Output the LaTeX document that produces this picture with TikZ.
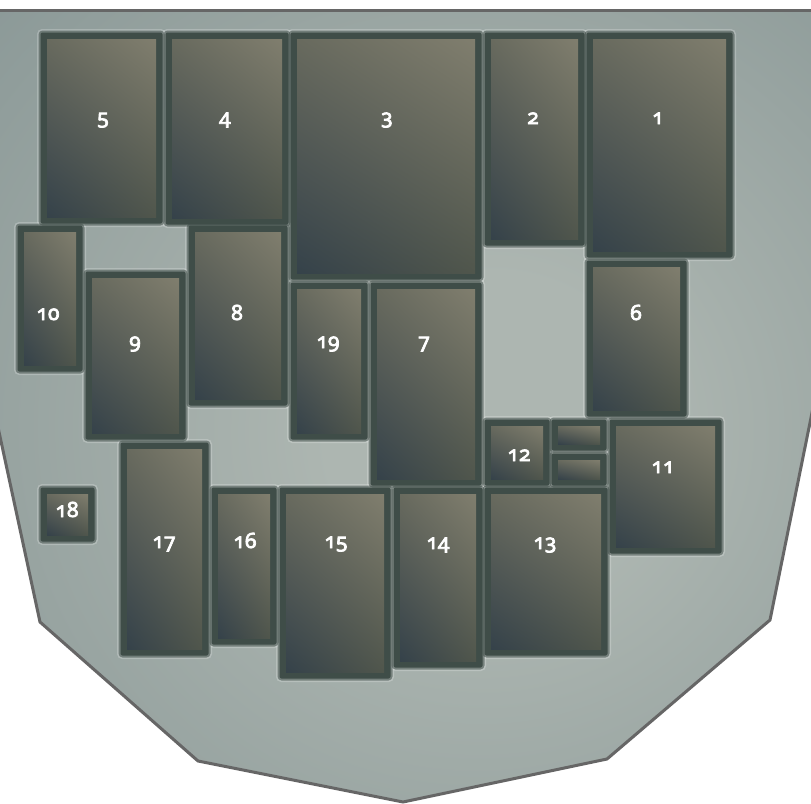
\documentclass[tikz,border=0pt]{standalone}
\usepackage{fontspec}
\newfontfamily\fusefont{Noto Sans}[Numbers=OldStyle, AutoFakeBold=3.5]
\usetikzlibrary{shadings}

\definecolor{shieldin}{RGB}{173,182,177}
\definecolor{shieldout}{RGB}{124,140,140}
\definecolor{shieldline}{RGB}{102,102,102}
\definecolor{rimcol}{RGB}{63,77,72}
\definecolor{fusetr}{RGB}{128,126,110}
\definecolor{fusetl}{RGB}{104,106,94}
\definecolor{fusebr}{RGB}{80,86,76}
\definecolor{fusebl}{RGB}{53,66,74}

\pgfdeclareradialshading{shieldglow}{\pgfpoint{6bp}{-2bp}}{%
  color(0bp)=(shieldin); color(10bp)=(shieldin);
  color(52bp)=(shieldout); color(80bp)=(shieldout)}

\tikzset{
  halobox/.style={fill=white, opacity=.22, rounded corners=5pt},
  softbox/.style={fill=rimcol, opacity=.55, rounded corners=4pt},
  rimbox/.style={fill=rimcol, rounded corners=2pt},
  fusebody/.style={upper right=fusetr, upper left=fusetl,
                   lower right=fusebr, lower left=fusebl},
  fuselabel/.style={text=white, anchor=base, inner sep=0pt,
                    font=\fusefont\bfseries\fontsize{21}{21}\selectfont},
}

% fuse name / inner box (left, top, right, bottom)
\def\fuselist{5/47/39/156/217, 4/172/39/282/218, 3/297/39/475/273,
  2/491/39/578/239, 1/593/39/726/251, 6/593/267/680/410,
  10/24/232/76/365, 9/92/278/179/433, 8/195/232/281/399,
  19/297/289/361/433, 7/377/289/475/479, 12/491/426/543/479,
  a/558/426/600/444, b/558/460/600/479, 11/616/426/715/547,
  18/47/494/88/535, 17/127/449/202/649, 16/218/494/270/638,
  15/286/494/384/672, 14/400/494/476/661, 13/491/494/601/649}

\begin{document}
\begin{tikzpicture}[x=1pt, y=-1pt]
    \useasboundingbox (0,0) rectangle (811,803);
    \fill[white] (0,0) rectangle (811,803);

    % 1. the shield and its outline
    \coordinate (tl) at (-4,10);
    \coordinate (tr) at (815,10);
    \coordinate (r0) at (815,398);
    \coordinate (r1) at (770,620);
    \coordinate (r2) at (607,759);
    \coordinate (bt) at (403,802);
    \coordinate (l2) at (198,761);
    \coordinate (l1) at (40,622);
    \coordinate (l0) at (-4,418);
    \shade[shading=shieldglow] (tl) -- (tr) -- (r0) -- (r1) -- (r2) -- (bt)
        -- (l2) -- (l1) -- (l0) -- cycle;
    \draw[shieldline, line width=3pt] (tl) -- (tr);
    \draw[shieldline, line width=3pt] (r0) -- (r1) -- (r2) -- (bt)
        -- (l2) -- (l1) -- (l0);

    % 2. halo, rim and body of every fuse
    \foreach \name/\xa/\ya/\xb/\yb in \fuselist {
        \fill[halobox] (\xa-10,\ya-10) rectangle (\xb+10,\yb+10);
    }
    \foreach \name/\xa/\ya/\xb/\yb in \fuselist {
        \fill[softbox] (\xa-8.5,\ya-8.5) rectangle (\xb+8.5,\yb+8.5);
        \fill[rimbox] (\xa-6.5,\ya-6.5) rectangle (\xb+6.5,\yb+6.5);
        \shade[fusebody] (\xa,\ya) rectangle (\xb,\yb);
    }

    % 3. fuse numbers (base line positions)
    \foreach \name/\lx/\ly in {5/103/124, 4/225/124, 3/387/124, 2/533/124,
        1/658/124, 6/636/320, 10/48/320, 8/237/320, 9/135/348, 19/328/348,
        7/424/348, 12/519/461, 11/663/473, 18/67/517, 17/164/548,
        16/245/548, 15/336/548, 14/438/549, 13/545/549} {
        \node[fuselabel] (n\name) at (\lx,\ly) {\name};
    }
\end{tikzpicture}
\end{document}
